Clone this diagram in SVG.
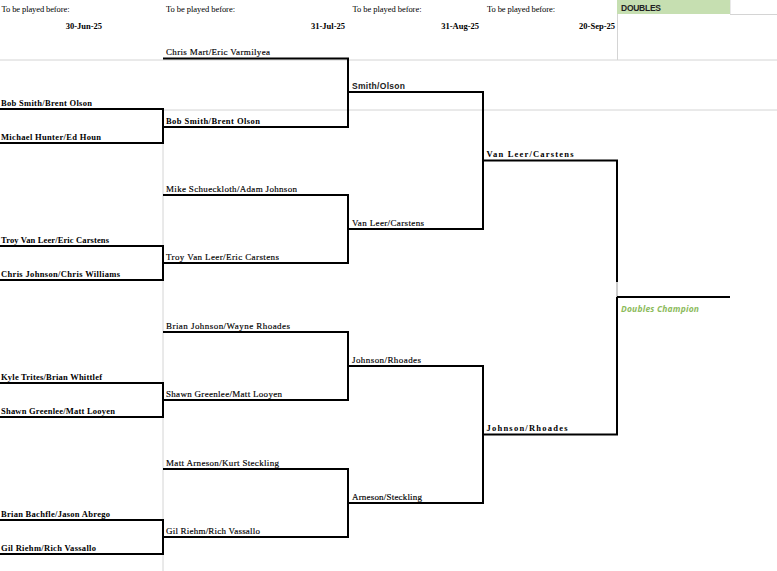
<svg xmlns="http://www.w3.org/2000/svg" width="777" height="571" viewBox="0 0 777 571">
<style>
.grid{stroke:#d4d4d4;stroke-width:1;fill:none}
.br{stroke:#000;stroke-width:2;fill:none}
.hd{font-family:"Liberation Serif",serif;font-size:8.5px;fill:#000}
.t{font-family:"Liberation Serif",serif;font-size:8.5px;font-weight:bold;fill:#000}
.tr{font-family:"Liberation Serif",serif;font-size:9px;fill:#000;stroke:#000;stroke-width:0.15}
.s{font-family:"Liberation Sans",Arial,sans-serif;font-size:8.5px;font-weight:bold;fill:#222}
</style>
<rect width="777" height="571" fill="#fff"/>
<g id="grid">
<line class="grid" x1="0" y1="60" x2="777" y2="60"/>
<line class="grid" x1="163" y1="110" x2="777" y2="110"/>
<line class="grid" x1="163" y1="110" x2="163" y2="571"/>
<line class="grid" x1="617.5" y1="14" x2="617.5" y2="60"/>
<line class="grid" x1="730" y1="0" x2="730" y2="14"/>
<line class="grid" x1="730" y1="14.5" x2="777" y2="14.5"/>
</g>
<g id="header">
<rect x="617" y="0" width="113" height="14" fill="#c6dfb1"/>
<text class="s" x="621" y="11" font-size="8" textLength="40" fill="#333">DOUBLES</text>
<text class="hd" x="1.5" y="12" textLength="68">To be played before:</text>
<text class="hd" x="166" y="12" textLength="69">To be played before:</text>
<text class="hd" x="352.5" y="12" textLength="69">To be played before:</text>
<text class="hd" x="487" y="12" textLength="68">To be played before:</text>
<text class="hd" x="102" y="28.5" text-anchor="end" font-weight="bold">30-Jun-25</text>
<text class="hd" x="345" y="28.5" text-anchor="end" font-weight="bold">31-Jul-25</text>
<text class="hd" x="479" y="28.5" text-anchor="end" font-weight="bold">31-Aug-25</text>
<text class="hd" x="615" y="28.5" text-anchor="end" font-weight="bold">20-Sep-25</text>
</g>
<g id="connectors">
<path class="br" d="M0 109H163V143H0"/>
<path class="br" d="M0 246H163V280H0"/>
<path class="br" d="M0 383H163V417H0"/>
<path class="br" d="M0 520H163V554H0"/>
<path class="br" d="M163 58.5H348V127H163"/>
<path class="br" d="M163 195H348V263H163"/>
<path class="br" d="M163 332H348V400H163"/>
<path class="br" d="M163 469H348V537H163"/>
<path class="br" d="M348 92H483V229H348"/>
<path class="br" d="M348 366H483V503H348"/>
<path class="br" d="M483 160.5H617V282"/>
<line x1="617" y1="282" x2="617" y2="297" stroke="#999" stroke-width="1"/>
<path class="br" d="M617 297V434.5H483"/>
<line class="br" x1="617" y1="297" x2="730" y2="297"/>
</g>
<g id="r1-m1"><text class="t" x="1" y="105.5" textLength="91">Bob Smith/Brent Olson</text><text class="t" x="1" y="139.5" textLength="100">Michael Hunter/Ed Houn</text></g>
<g id="r1-m2"><text class="t" x="1" y="242.5" textLength="108">Troy Van Leer/Eric Carstens</text><text class="t" x="1" y="276.5" textLength="119">Chris Johnson/Chris Williams</text></g>
<g id="r1-m3"><text class="t" x="1" y="379.5" textLength="101">Kyle Trites/Brian Whittlef</text><text class="t" x="1" y="413.5" textLength="114">Shawn Greenlee/Matt Looyen</text></g>
<g id="r1-m4"><text class="t" x="1" y="516.5" textLength="109">Brian Bachfle/Jason Abrego</text><text class="t" x="1" y="550.5" textLength="95">Gil Riehm/Rich Vassallo</text></g>
<g id="r2-m1"><text class="tr" x="166" y="55" textLength="104">Chris Mart/Eric Varmilyea</text><text class="t" x="166" y="123.5" textLength="94">Bob Smith/Brent Olson</text></g>
<g id="r2-m2"><text class="tr" x="166" y="191.5" textLength="131">Mike Schueckloth/Adam Johnson</text><text class="tr" x="166" y="259.5" textLength="113">Troy Van Leer/Eric Carstens</text></g>
<g id="r2-m3"><text class="tr" x="166" y="328.5" textLength="124">Brian Johnson/Wayne Rhoades</text><text class="tr" x="166" y="396.5" textLength="116">Shawn Greenlee/Matt Looyen</text></g>
<g id="r2-m4"><text class="tr" x="166" y="465.5" textLength="113">Matt Arneson/Kurt Steckling</text><text class="tr" x="166" y="533.5" textLength="94">Gil Riehm/Rich Vassallo</text></g>
<g id="r3-m1"><text class="s" x="352" y="89" textLength="53">Smith/Olson</text></g>
<g id="r3-m2"><text class="tr" x="352" y="225.5" textLength="72">Van Leer/Carstens</text></g>
<g id="r3-m3"><text class="tr" x="352" y="362.5" textLength="69">Johnson/Rhoades</text></g>
<g id="r3-m4"><text class="tr" x="352" y="499.5" textLength="70">Arneson/Steckling</text></g>
<g id="r4-m1"><text class="t" x="486.5" y="157" textLength="87">Van Leer/Carstens</text></g>
<g id="r4-m2"><text class="t" x="486.5" y="430.5" textLength="81">Johnson/Rhoades</text></g>
<g id="champion"><text x="621" y="312" font-family="'Open Sans','Liberation Sans',sans-serif" font-size="8.5" font-style="italic" font-weight="bold" fill="#8cbb5c" textLength="78">Doubles Champion</text></g>
</svg>
